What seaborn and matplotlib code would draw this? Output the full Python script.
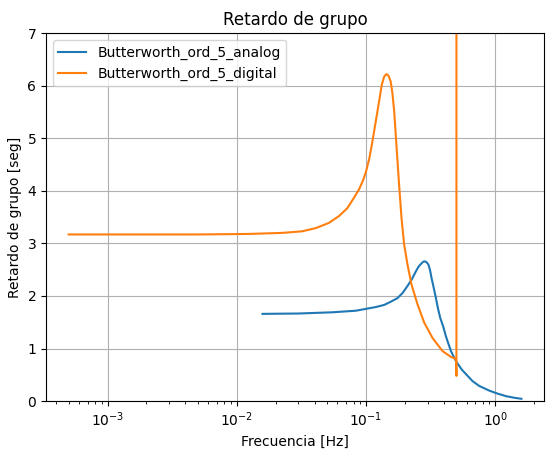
import matplotlib
matplotlib.use("Agg")
import seaborn as sns
import matplotlib.pyplot as plt

# Retardo de grupo (frecuencia en Hz, retardo en seg)
analog_f = [0.0158, 0.0303, 0.0548, 0.0834, 0.119, 0.138, 0.155, 0.175, 0.192, 0.209,
            0.225, 0.243, 0.255, 0.266, 0.276, 0.285, 0.294, 0.303, 0.312, 0.321,
            0.332, 0.347, 0.36, 0.375, 0.395, 0.415, 0.435, 0.454, 0.475, 0.496,
            0.55, 0.6, 0.667, 0.75, 0.898, 1.05, 1.21, 1.4, 1.59]
analog_gd = [1.66, 1.667, 1.69, 1.72, 1.79, 1.83, 1.89, 1.96, 2.06, 2.19,
             2.31, 2.47, 2.56, 2.61, 2.65, 2.66, 2.64, 2.60, 2.50, 2.34,
             2.18, 1.96, 1.76, 1.58, 1.42, 1.23, 1.08, 0.95, 0.85, 0.76,
             0.60, 0.50, 0.38, 0.29, 0.20, 0.14, 0.095, 0.065, 0.045]

digital_f = [0.0005, 0.001, 0.002, 0.005, 0.0124, 0.0225, 0.032, 0.0407, 0.0516, 0.0617,
             0.0716, 0.0807, 0.0883, 0.0948, 0.0995, 0.106, 0.112, 0.1224, 0.1324, 0.138,
             0.1436, 0.149, 0.155, 0.160, 0.165, 0.173, 0.180, 0.188, 0.197, 0.209,
             0.2245, 0.250, 0.282, 0.327, 0.391, 0.454, 0.487, 0.496, 0.5, 0.5]
digital_gd = [3.17, 3.17, 3.17, 3.17, 3.18, 3.20, 3.23, 3.29, 3.39, 3.52,
              3.67, 3.87, 4.03, 4.20, 4.35, 4.62, 4.94, 5.51, 6.02, 6.17,
              6.22, 6.19, 6.08, 5.85, 5.51, 4.75, 4.12, 3.48, 2.98, 2.60,
              2.22, 1.84, 1.49, 1.20, 0.95, 0.84, 0.81, 0.80, 0.48, 25.0]

fig = plt.figure(figsize=(5.54, 4.59), dpi=100)
ax = fig.add_axes([0.083, 0.126, 0.899, 0.802])

sns.lineplot(x=analog_f, y=analog_gd, ax=ax, color="tab:blue",
             label="Butterworth_ord_5_analog", sort=False, estimator=None)
sns.lineplot(x=digital_f, y=digital_gd, ax=ax, color="tab:orange",
             label="Butterworth_ord_5_digital", sort=False, estimator=None)

ax.set_xscale("log")
ax.set_ylim(0, 7)
ax.grid(True)
ax.set_title("Retardo de grupo")
ax.set_xlabel("Frecuencia [Hz]")
ax.set_ylabel("Retardo de grupo [seg]")
ax.legend(loc="upper left")

fig.savefig("out.png", dpi=100)
